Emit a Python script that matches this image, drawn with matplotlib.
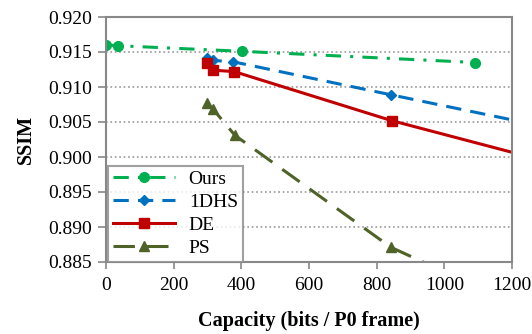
import numpy as np
import matplotlib.pyplot as plt

plt.rcParams['font.family'] = ['Liberation Serif', 'DejaVu Serif']

# data (last points run past the right edge)
ours_x = [0, 35, 402, 1090]
ours_y = [0.9160, 0.9159, 0.9151, 0.9135]
dhs_x = [299, 315, 376, 841, 1300]
dhs_y = [0.9142, 0.9138, 0.9136, 0.9089, 0.9043]
de_x = [299, 317, 379, 844, 1300]
de_y = [0.9134, 0.9124, 0.9122, 0.9052, 0.8994]
ps_x = [299, 317, 381, 842, 1300]
ps_y = [0.9077, 0.9068, 0.9031, 0.8871, 0.8770]

xticks = [0, 200, 400, 600, 800, 1000, 1200]
yticks = [0.885, 0.890, 0.895, 0.900, 0.905, 0.910, 0.915, 0.920]

gray = '#888888'

fig = plt.figure(figsize=(5.32, 3.34), dpi=100)
ax = fig.add_axes([106/532, 1-262/334, (512-106)/532, (262-17)/334])

ax.plot(ours_x, ours_y, color='#00B050', lw=2.2, marker='o', ms=7,
        dashes=[5, 3, 1, 3], label='Ours')
ax.plot(dhs_x, dhs_y, color='#0070C0', lw=2.2, marker='D', ms=5,
        dashes=[5, 3], label='1DHS')
ax.plot(de_x, de_y, color='#C00000', lw=2.2, marker='s', ms=7,
        label='DE')
ax.plot(ps_x, ps_y, color='#4F6228', lw=2.2, marker='^', ms=7,
        dashes=[7, 4], label='PS')

ax.set_xlim(0, 1200)
ax.set_ylim(0.885, 0.920)
ax.set_xticks(xticks)
ax.set_yticks(yticks)
ax.set_yticklabels(['%.3f' % v for v in yticks])
ax.yaxis.grid(True, color='#999999', linestyle=':', lw=1.2)
ax.set_axisbelow(True)

for s in ax.spines.values():
    s.set_color(gray)
    s.set_linewidth(1.5)

ax.tick_params(axis='both', colors=gray, labelcolor='black', labelsize=14,
               direction='out', width=1.2)
ax.tick_params(axis='y', length=6, pad=4)
ax.tick_params(axis='x', length=5, pad=6)

ax.set_xlabel('Capacity (bits / P0 frame)', fontsize=14.5, fontweight='bold', labelpad=12)
ax.set_ylabel('SSIM', fontsize=14.5, fontweight='bold', labelpad=9)

leg = ax.legend(loc='lower left', bbox_to_anchor=(0.005, 0.0), fontsize=14,
                handlelength=3.2, frameon=True, fancybox=False,
                borderpad=0.25, labelspacing=0.28, handletextpad=0.7,
                borderaxespad=0)
leg.get_frame().set_edgecolor(gray)
leg.get_frame().set_linewidth(1.5)

fig.savefig('out.png', dpi=100)
